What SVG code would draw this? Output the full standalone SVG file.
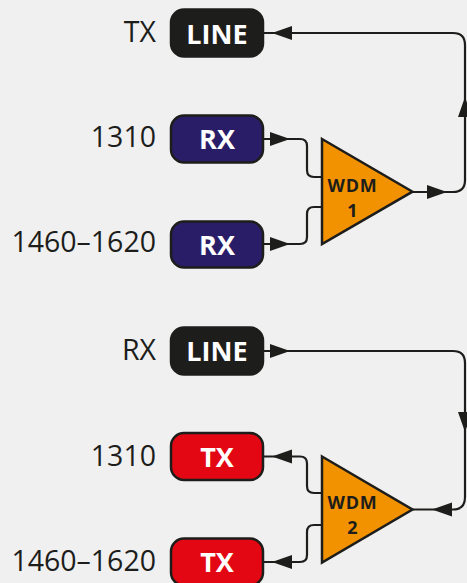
<svg xmlns="http://www.w3.org/2000/svg" xmlns:xlink="http://www.w3.org/1999/xlink" width="467" height="583" viewBox="0 0 467 583">
<style>
.bg{fill:#f0f0f0}
.box{stroke:#1d1d1b;stroke-width:2.5}
.line{fill:#1d1d1b}
.rx{fill:#2a1d68}
.tx{fill:#e30613}
.bt{font-family:"Open Sans","DejaVu Sans",sans-serif;font-weight:bold;font-size:27px;fill:#ffffff;text-anchor:middle}
.lbl{font-family:"Open Sans","DejaVu Sans",sans-serif;font-size:28.5px;fill:#1d1d1b;text-anchor:end}
.wdm{fill:#f39200;stroke:#1d1d1b;stroke-width:2.5;stroke-linejoin:miter}
.wt{font-family:"Open Sans","DejaVu Sans",sans-serif;font-weight:bold;font-size:18px;fill:#1d1d1b;text-anchor:middle}
.conn path{fill:none;stroke:#1d1d1b;stroke-width:2.2}
.ah{fill:#1d1d1b}
</style>
<defs>
<path id="ah" class="ah" d="M0,0 L-20,-7 L-20,7 Z"/>
</defs>
<rect class="bg" x="0" y="0" width="467" height="583"/>

<g id="connectors" class="conn">
<path d="M263,33 H453 Q465,33 465,45 V180 Q465,192 453,192 H412"/>
<path d="M263,139 H300 Q307,139 307,146 V170 Q307,177 314,177 H322"/>
<path d="M263,244 H300 Q307,244 307,237 V214 Q307,207 314,207 H322"/>
<path d="M263,351 H453 Q465,351 465,363 V497 Q465,509.5 453,509.5 H412"/>
<path d="M263,456.5 H300 Q307,456.5 307,463.5 V486 Q307,493 314,493 H322"/>
<path d="M263,562 H300 Q307,562 307,555 V532 Q307,525 314,525 H322"/>
<use xlink:href="#ah" transform="translate(272,33) rotate(180)"/>
<use xlink:href="#ah" transform="translate(465,97) rotate(-90)"/>
<use xlink:href="#ah" transform="translate(447,192)"/>
<use xlink:href="#ah" transform="translate(290,139)"/>
<use xlink:href="#ah" transform="translate(290,244)"/>
<use xlink:href="#ah" transform="translate(290,351)"/>
<use xlink:href="#ah" transform="translate(465,432) rotate(90)"/>
<use xlink:href="#ah" transform="translate(432,509.5) rotate(180)"/>
<use xlink:href="#ah" transform="translate(272,456.5) rotate(180)"/>
<use xlink:href="#ah" transform="translate(272,562) rotate(180)"/>
</g>

<g id="label-tx"><text class="lbl" x="156" y="42">TX</text></g>
<g id="label-1310-a"><text class="lbl" x="156" y="147">1310</text></g>
<g id="label-1460-a"><text class="lbl" x="156" y="252">1460–1620</text></g>
<g id="label-rx"><text class="lbl" x="156" y="360">RX</text></g>
<g id="label-1310-b"><text class="lbl" x="156" y="466">1310</text></g>
<g id="label-1460-b"><text class="lbl" x="156" y="571">1460–1620</text></g>

<g id="line1"><rect class="box line" x="171" y="9.5" width="92" height="47" rx="13"/><text class="bt" x="217" y="43.5">LINE</text></g>
<g id="rx1"><rect class="box rx" x="171" y="115.5" width="92" height="47" rx="13"/><text class="bt" x="217" y="149">RX</text></g>
<g id="rx2"><rect class="box rx" x="171" y="221.5" width="92" height="46" rx="13"/><text class="bt" x="217" y="255">RX</text></g>
<g id="wdm1"><path class="wdm" d="M322,139 L412.5,191.7 L322,244 Z"/><text class="wt" x="352.5" y="191.8" letter-spacing="0.8">WDM</text><text class="wt" x="352.5" y="216.5">1</text></g>

<g id="line2"><rect class="box line" x="171" y="327.5" width="92" height="47" rx="13"/><text class="bt" x="217" y="361">LINE</text></g>
<g id="tx1"><rect class="box tx" x="171" y="433" width="92" height="47" rx="13"/><text class="bt" x="217" y="467">TX</text></g>
<g id="tx2"><rect class="box tx" x="171" y="538.5" width="92" height="47" rx="13"/><text class="bt" x="217" y="572">TX</text></g>
<g id="wdm2"><path class="wdm" d="M322,456.5 L412.5,509.5 L322,562.5 Z"/><text class="wt" x="352.5" y="509.3" letter-spacing="0.8">WDM</text><text class="wt" x="352.5" y="534">2</text></g>
</svg>
